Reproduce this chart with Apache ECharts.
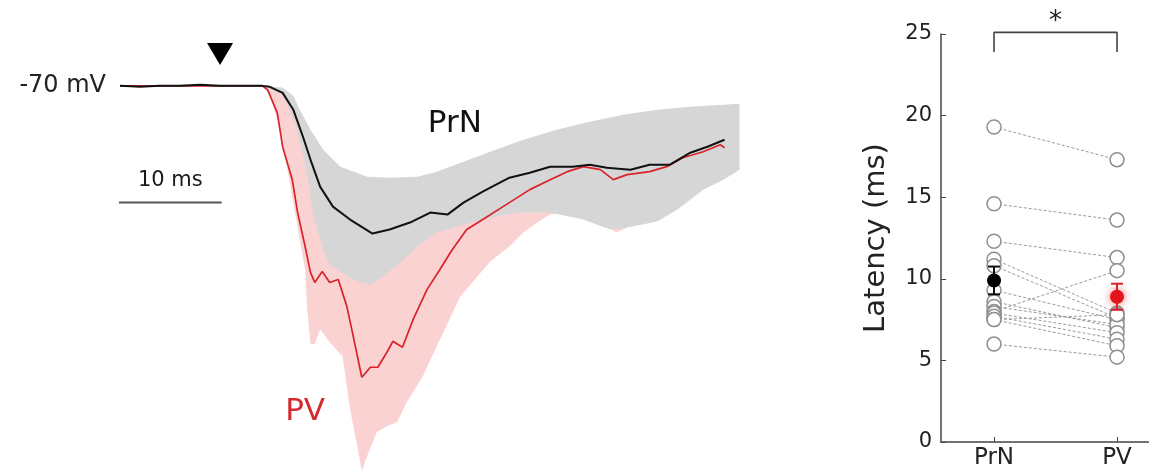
<!DOCTYPE html>
<html><head><meta charset="utf-8">
<script src="https://cdn.jsdelivr.net/npm/echarts@6/dist/echarts.min.js"></script>
<style>html,body{margin:0;padding:0;background:#fff}#c{width:1149px;height:475px}</style>
</head><body><div id="c"></div>
<script>
// ---------- Left panel: averaged traces, [time (ms), membrane potential (mV)] ----------
const baselineMv = -70;
const baselineLabel = '-70 mV';
const blackTrace = [[0,-70.0],[1.9,-70.1],[3.7,-70.0],[5.6,-70.0],[7.5,-69.9],[9.3,-70.0],[11.2,-70.0],[13.3,-70.0],[14.0,-70.1],[15.2,-70.7],[16.2,-72.4],[17.1,-75.1],[17.9,-77.7],[18.7,-80.1],[19.9,-82.1],[21.5,-83.4],[22.7,-84.2],[23.6,-84.8],[25.2,-84.4],[27.1,-83.7],[29.0,-82.7],[30.6,-82.9],[32.1,-81.7],[33.9,-80.6],[35.5,-79.7],[36.4,-79.2],[38.3,-78.7],[40.2,-78.1],[42.3,-78.1],[43.9,-77.9],[45.5,-78.2],[47.7,-78.4],[49.5,-77.9],[51.4,-77.9],[53.3,-76.7],[54.9,-76.1],[56.5,-75.4]];
const redTrace = [[0,-70.0],[5.0,-70.0],[10.0,-70.0],[13.3,-70.0],[13.8,-70.4],[14.7,-72.7],[15.2,-76.1],[16.1,-79.4],[16.6,-82.7],[17.3,-86.1],[17.8,-88.7],[18.2,-89.7],[18.9,-88.6],[19.6,-89.7],[20.4,-89.4],[21.2,-92.1],[21.8,-95.1],[22.6,-99.2],[23.4,-98.2],[24.1,-98.2],[25.0,-96.6],[25.5,-95.6],[26.4,-96.2],[27.4,-93.4],[28.7,-90.4],[29.9,-88.4],[31.0,-86.5],[32.4,-84.4],[33.9,-83.4],[35.8,-82.1],[38.3,-80.4],[40.2,-79.4],[41.8,-78.6],[43.3,-78.1],[44.9,-78.4],[46.1,-79.4],[47.4,-78.9],[49.5,-78.6],[51.1,-78.1],[52.6,-77.2],[54.5,-76.6],[56.1,-75.9],[56.5,-76.2]];
const greyUpper = [[13.3,-70.0],[15.2,-70.2],[16.2,-71.0],[16.8,-72.4],[17.8,-74.4],[19.0,-76.4],[20.6,-78.1],[23.1,-79.1],[25.2,-79.2],[27.8,-79.1],[29.6,-78.6],[32.1,-77.6],[34.6,-76.6],[37.7,-75.4],[40.8,-74.4],[43.9,-73.6],[47.0,-72.9],[50.2,-72.4],[53.3,-72.1],[57.9,-71.8]];
const greyLower = [[13.3,-70.0],[15.2,-70.9],[16.4,-73.9],[17.1,-76.9],[17.6,-79.4],[18.0,-82.7],[18.9,-86.1],[19.6,-87.9],[21.0,-88.9],[22.4,-89.7],[23.4,-89.9],[24.6,-89.1],[26.2,-87.7],[27.8,-86.1],[29.6,-84.7],[31.5,-84.1],[33.9,-83.4],[37.1,-82.7],[40.2,-82.7],[43.3,-83.4],[45.8,-84.4],[47.9,-84.1],[50.2,-83.6],[52.1,-82.4],[54.5,-80.4],[56.4,-79.4],[57.9,-78.4]];
const pinkUpper = [[13.3,-70.0],[14.0,-70.1],[15.2,-70.2],[16.4,-72.9],[17.1,-75.9],[17.6,-78.4],[18.0,-81.4],[18.9,-84.9],[19.6,-86.9],[21.0,-87.9],[22.4,-88.6],[23.4,-88.9],[24.6,-88.1],[26.2,-86.7],[27.8,-85.1],[29.6,-83.7],[31.5,-82.9],[33.9,-82.2],[37.1,-81.4],[40.2,-80.9],[43.3,-80.9],[46.7,-80.4],[49.5,-79.4],[54.2,-77.4],[56.5,-76.4]];
const pinkLower = [[13.3,-70.0],[14.0,-70.9],[15.0,-74.4],[15.9,-79.9],[16.8,-85.4],[17.3,-88.4],[17.5,-92.4],[17.8,-95.9],[18.2,-95.9],[18.7,-94.4],[19.6,-95.7],[20.8,-97.1],[21.5,-102.4],[22.1,-105.7],[22.6,-108.6],[23.1,-107.1],[24.0,-104.7],[25.0,-104.1],[25.9,-103.7],[26.8,-101.7],[28.3,-99.1],[29.6,-96.1],[30.8,-93.4],[31.8,-91.1],[33.4,-89.1],[34.6,-87.6],[36.4,-86.1],[37.7,-84.7],[39.0,-83.7],[40.2,-82.9],[41.8,-82.7],[43.5,-83.2],[44.9,-83.7],[46.4,-84.7],[48.6,-83.6],[50.5,-82.9],[52.3,-81.9],[54.7,-79.9],[56.5,-78.9]];
const stimMark = [9.35, -66.8];
const scaleBar = [[-0.5, -81.7], [9.5, -81.7]];
const scaleBarLabel = '10 ms';
const traceLabels = [{name:'PrN', pos:[31.3,-73.8]}, {name:'PV', pos:[17.3,-102.7]}];

// ---------- Right panel: latency (ms) ----------
const groups = ['PrN', 'PV'];
const latPrN = [19.3, 14.6, 12.3, 11.2, 10.8, 9.3, 8.6, 8.3, 8.0, 7.9, 7.7, 7.5, 7.5, 6.0];
const latPV  = [17.3, 13.6, 11.3, 7.9, 7.6, 7.5, 7.0, 7.2, 10.5, 6.7, 6.3, 7.8, 5.9, 5.2];
const meanLat = [9.9, 8.9];
const semLat = [0.85, 0.8];
const yTicks = [0, 5, 10, 15, 20, 25];
const sigBracket = [[1, 23.9], [1, 25.1], [2, 25.1], [2, 23.9]];
const sigLabel = '*';

const FONT = 'DejaVu Sans';
const RED = '#d8232a', BLACK = '#111';

function band(up, lo, color, z) {
  return {
    type: 'custom', xAxisIndex: 0, yAxisIndex: 0, silent: true, z: z,
    data: [up[0]],
    renderItem: (params, api) => {
      const pts = up.map(p => api.coord(p)).concat(lo.slice().reverse().map(p => api.coord(p)));
      return { type: 'polygon', shape: { points: pts }, style: { fill: color } };
    }
  };
}
function textMark(pos, text, size, color, axis) {
  return { type: 'scatter', xAxisIndex: axis, yAxisIndex: axis, symbolSize: 0, z: 6, clip: false, data: [pos],
    itemStyle: { opacity: 1 },
    label: { show: true, position: 'inside', formatter: text, fontFamily: FONT, fontSize: size, color: color } };
}

const series = [];
series.push(band(pinkUpper, pinkLower, '#fbd2d2', 1));
series.push(band(greyUpper, greyLower, '#d6d6d6', 2));
series.push({ type: 'line', xAxisIndex: 0, yAxisIndex: 0, data: redTrace, showSymbol: false, symbol: 'none', z: 3,
  lineStyle: { color: RED, width: 1.7 } });
series.push({ type: 'line', xAxisIndex: 0, yAxisIndex: 0, data: blackTrace, showSymbol: false, symbol: 'none', z: 4,
  lineStyle: { color: BLACK, width: 2 } });
series.push({ type: 'scatter', xAxisIndex: 0, yAxisIndex: 0, data: [stimMark], symbol: 'triangle', symbolRotate: 180,
  symbolSize: [26, 22], itemStyle: { color: '#000', opacity: 1 }, z: 5, clip: false });
series.push({ type: 'line', xAxisIndex: 0, yAxisIndex: 0, data: scaleBar, symbol: 'none', z: 5,
  lineStyle: { color: '#555', width: 2 } });
series.push(textMark([(scaleBar[0][0] + scaleBar[1][0]) / 2 + 0.2, scaleBar[0][1] + 2.2], scaleBarLabel, 21, '#1a1a1a', 0));
traceLabels.forEach((t, i) => {
  series.push(textMark(t.pos, t.name, 31, i === 0 ? '#111' : '#d42a2f', 0));
});

// Right panel
latPrN.forEach((v, i) => {
  series.push({ type: 'line', xAxisIndex: 1, yAxisIndex: 1, data: [[1, v], [2, latPV[i]]], symbol: 'none', z: 2,
    lineStyle: { color: '#9a9a9a', width: 1, type: [3, 2] } });
});
[latPrN, latPV].forEach((arr, g) => {
  series.push({ type: 'scatter', xAxisIndex: 1, yAxisIndex: 1, z: 3, data: arr.map(v => [g + 1, v]),
    symbol: 'circle', symbolSize: 14, itemStyle: { color: '#fff', borderColor: '#8f8f8f', borderWidth: 1.5, opacity: 1 } });
});
series.push({
  type: 'custom', xAxisIndex: 1, yAxisIndex: 1, z: 4,
  data: meanLat.map((m, i) => [i + 1, m - semLat[i], m + semLat[i]]),
  encode: { x: 0, y: [1, 2] },
  renderItem: (params, api) => {
    const x = api.value(0);
    const lo = api.coord([x, api.value(1)]);
    const hi = api.coord([x, api.value(2)]);
    const c = params.dataIndex === 0 ? BLACK : RED;
    const st = { stroke: c, lineWidth: 2 };
    return { type: 'group', children: [
      { type: 'line', shape: { x1: lo[0], y1: lo[1], x2: hi[0], y2: hi[1] }, style: st },
      { type: 'line', shape: { x1: lo[0] - 6, y1: lo[1], x2: lo[0] + 6, y2: lo[1] }, style: st },
      { type: 'line', shape: { x1: hi[0] - 6, y1: hi[1], x2: hi[0] + 6, y2: hi[1] }, style: st }
    ] };
  }
});
series.push({ type: 'scatter', xAxisIndex: 1, yAxisIndex: 1, z: 5, data: [[1, meanLat[0]]], symbolSize: 14,
  itemStyle: { color: '#000', opacity: 1 } });
series.push({ type: 'scatter', xAxisIndex: 1, yAxisIndex: 1, z: 5, data: [[2, meanLat[1]]], symbolSize: 14,
  itemStyle: { color: '#e3141b', opacity: 1, shadowBlur: 8, shadowColor: 'rgba(240,40,40,0.7)' } });
series.push({ type: 'line', xAxisIndex: 1, yAxisIndex: 1, data: sigBracket, symbol: 'none', clip: false, z: 5,
  lineStyle: { color: '#444', width: 1.6 } });
series.push(textMark([1.5, 25.7], sigLabel, 26, '#222', 1));

const option = {
  animation: false,
  backgroundColor: '#fff',
  grid: [
    { left: 120, top: 26, width: 642, height: 450 },
    { left: 941, top: 34, width: 208, height: 408 }
  ],
  xAxis: [
    { gridIndex: 0, type: 'value', min: 0, max: 60, show: false },
    { gridIndex: 1, type: 'value', min: 0.569, max: 2.26,
      axisLine: { show: true, lineStyle: { color: '#444', width: 1.5 } },
      axisTick: { show: true, inside: true, length: 5, customValues: [1, 2], lineStyle: { color: '#444' } },
      axisLabel: { customValues: [1, 2], formatter: v => groups[Math.round(v) - 1], fontFamily: FONT, fontSize: 23, color: '#222', margin: 5 },
      splitLine: { show: false } }
  ],
  yAxis: [
    { gridIndex: 0, type: 'value', min: -109, max: -64,
      axisLine: { show: false }, axisTick: { show: false }, splitLine: { show: false },
      axisLabel: { customValues: [baselineMv], formatter: () => baselineLabel, fontFamily: FONT, fontSize: 24, color: '#222', margin: 14 } },
    { gridIndex: 1, type: 'value', min: yTicks[0], max: yTicks[yTicks.length - 1], interval: 5,
      name: 'Latency (ms)', nameLocation: 'middle', nameGap: 50,
      nameTextStyle: { fontFamily: FONT, fontSize: 29, color: '#222' },
      axisLine: { show: true, lineStyle: { color: '#444', width: 1.5 } },
      axisTick: { show: true, inside: true, length: 5, lineStyle: { color: '#444' } },
      axisLabel: { fontFamily: FONT, fontSize: 21, color: '#222', margin: 9 },
      splitLine: { show: false } }
  ],
  series: series
};
const chart = echarts.init(document.getElementById('c'), null, { renderer: 'canvas' });
chart.setOption(option);
</script></body></html>
